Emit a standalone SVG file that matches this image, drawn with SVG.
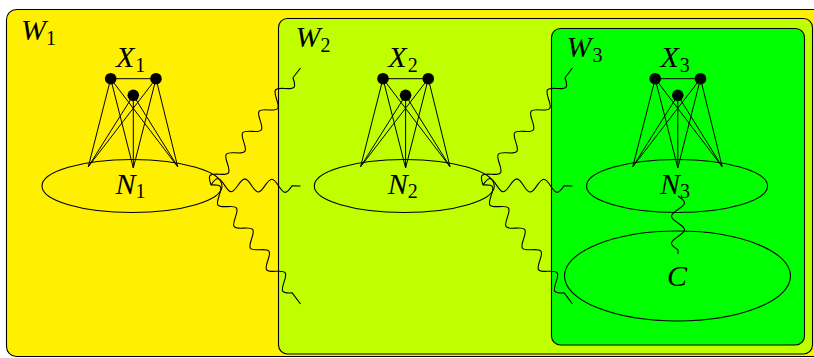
<svg xmlns="http://www.w3.org/2000/svg" width="814" height="358" viewBox="0 0 814 358">
<style>
.box{stroke:#000;stroke-width:1.1}
.ell{fill:none;stroke:#000;stroke-width:1.1}
.dot{fill:#000}
.ln{stroke:#000;stroke-width:1;fill:none}
.snake{fill:none;stroke:#000;stroke-width:1.1;stroke-linejoin:round}
.t{font-family:"Liberation Serif","Times New Roman",serif;font-style:italic;font-size:30px;fill:#000}
.s{font-style:normal;font-size:20px}
</style>
<defs>
<g id="fan">
<path class="ln" d="M110.7,78.7 L88.3,166.7 M110.7,78.7 L133.3,168 M110.7,78.7 L177.7,166.7 M156,78.7 L88.3,166.7 M156,78.7 L133.3,168 M156,78.7 L177.7,166.7 M133.3,95.3 L88.3,166.7 M133.3,95.3 L133.3,168 M133.3,95.3 L177.7,166.7 M110.7,78.7 L156,78.7"/>
</g>
<path id="snUp" class="snake" d="M0,0 c5.73,-8.67 7.77,-8.67 13.5,0 s7.77,8.67 13.5,0 s7.77,-8.67 13.5,0 s7.77,8.67 13.5,0 s7.77,-8.67 13.5,0 s7.77,8.67 13.5,0 s7.77,-8.67 13.5,0 s7.77,8.67 13.5,0 s7.77,-8.67 13.5,0 s7.77,8.67 13.5,0 h12.3"/>
<path id="snMid" class="snake" d="M0,0 c5.73,-8.67 7.77,-8.67 13.5,0 s7.77,8.67 13.5,0 s7.77,-8.67 13.5,0 s7.77,8.67 13.5,0 s7.77,-8.67 13.5,0 s7.77,8.67 13.5,0 h8.5"/>
<path id="snLow" class="snake" d="M0,0 c5.73,-8.67 7.77,-8.67 13.5,0 s7.77,8.67 13.5,0 s7.77,-8.67 13.5,0 s7.77,8.67 13.5,0 s7.77,-8.67 13.5,0 s7.77,8.67 13.5,0 s7.77,-8.67 13.5,0 s7.77,8.67 13.5,0 s7.77,-8.67 13.5,0 s7.77,8.67 13.5,0 h13.9"/>
</defs>
<rect width="814" height="358" fill="#fff"/>
<g id="W1">
<rect class="box" x="6.5" y="9.5" width="830" height="347" rx="10" fill="#FFEF00"/>
<text class="t" x="21" y="39.5">W<tspan class="s" dx="0" dy="5">1</tspan></text>
</g>
<g id="W2">
<rect class="box" x="278.5" y="18.5" width="534" height="335.5" rx="9" fill="#BFFF00"/>
<text class="t" x="295.5" y="46.7">W<tspan class="s" dx="0" dy="5">2</tspan></text>
</g>
<g id="W3">
<rect class="box" x="551.5" y="28.5" width="253" height="316.5" rx="9" fill="#00FF00"/>
<text class="t" x="566.5" y="57.3">W<tspan class="s" dx="1" dy="5">3</tspan></text>
</g>
<g id="N1">
<ellipse class="ell" cx="132" cy="186" rx="90" ry="26.5"/>
<text class="t" x="115.5" y="193.5">N<tspan class="s" dx="0" dy="4">1</tspan></text>
</g>
<g id="N2" transform="translate(272.3,0)">
<ellipse class="ell" cx="132" cy="186" rx="90" ry="26.5"/>
<text class="t" x="115.5" y="193.5">N<tspan class="s" dx="0" dy="4">2</tspan></text>
</g>
<g id="N3" transform="translate(544.5,0)">
<ellipse class="ell" cx="132.5" cy="186" rx="90.5" ry="26.5"/>
<text class="t" x="115.5" y="193.5">N<tspan class="s" dx="0" dy="4">3</tspan></text>
</g>
<g id="C">
<ellipse class="ell" cx="677.5" cy="276" rx="113" ry="45"/>
<text class="t" x="677" y="286" text-anchor="middle">C</text>
</g>
<g id="connectors">
<use href="#fan"/>
<use href="#fan" transform="translate(272.3,0)"/>
<use href="#fan" transform="translate(544.5,0)"/>
<use href="#snUp" transform="translate(211,185) rotate(-52.6)"/>
<use href="#snMid" transform="translate(211,185) rotate(0.64)"/>
<use href="#snLow" transform="translate(211,185) rotate(53.05)"/>
<use href="#snUp" transform="translate(483,185) rotate(-52.6)"/>
<use href="#snMid" transform="translate(483,185) rotate(0.64)"/>
<use href="#snLow" transform="translate(483,185) rotate(53.05)"/>
<path class="snake" transform="translate(678,196) rotate(90)" d="M0,0 c5.73,-8.67 7.77,-8.67 13.5,0 s7.77,8.67 13.5,0 s7.77,-8.67 13.5,0 s7.77,8.67 13.5,0 h4"/>
</g>
<g id="X1">
<circle class="dot" cx="110.7" cy="78.7" r="5.8"/>
<circle class="dot" cx="156" cy="78.7" r="5.8"/>
<circle class="dot" cx="133.3" cy="95.3" r="5.8"/>
<text class="t" x="116" y="66.5">X<tspan class="s" dx="1" dy="5">1</tspan></text>
</g>
<g id="X2" transform="translate(272.3,0)">
<circle class="dot" cx="110.7" cy="78.7" r="5.8"/>
<circle class="dot" cx="156" cy="78.7" r="5.8"/>
<circle class="dot" cx="133.3" cy="95.3" r="5.8"/>
<text class="t" x="116" y="66.5">X<tspan class="s" dx="1" dy="5">2</tspan></text>
</g>
<g id="X3" transform="translate(544.5,0)">
<circle class="dot" cx="110.7" cy="78.7" r="5.8"/>
<circle class="dot" cx="156" cy="78.7" r="5.8"/>
<circle class="dot" cx="133.3" cy="95.3" r="5.8"/>
<text class="t" x="116" y="66.5">X<tspan class="s" dx="1" dy="5">3</tspan></text>
</g>
</svg>
